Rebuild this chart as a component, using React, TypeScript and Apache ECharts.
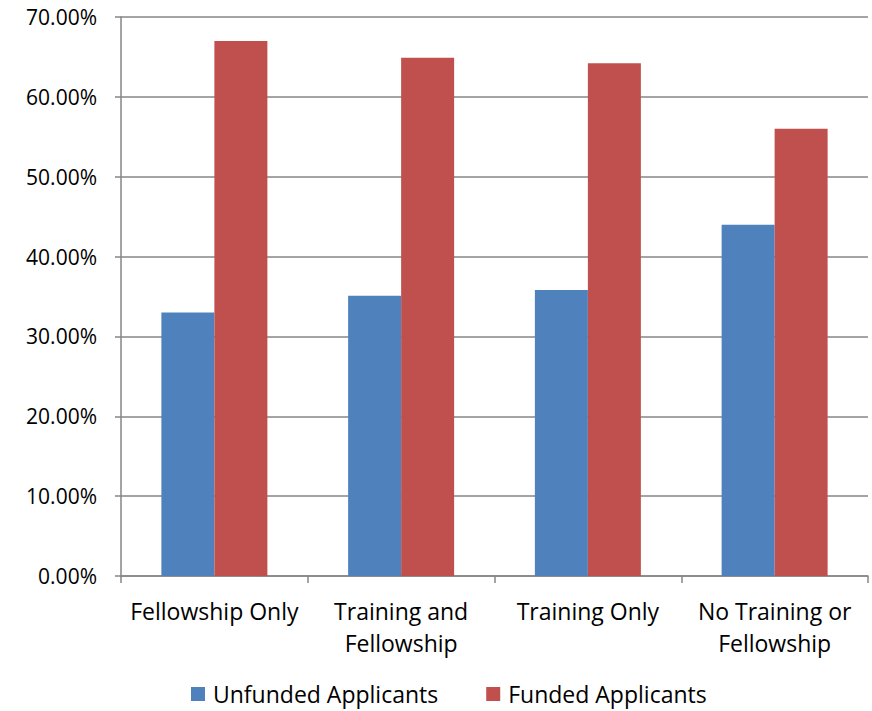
import React, { useEffect, useRef } from "react";
import * as echarts from "echarts";

const categories = ["Fellowship Only", "Training and\nFellowship", "Training Only", "No Training or\nFellowship"];
const unfunded = [33.0, 35.1, 35.8, 44.0];
const funded = [67.0, 64.9, 64.2, 56.0];
const seriesNames = ["Unfunded Applicants", "Funded Applicants"];

export default function App() {
  const ref = useRef<HTMLDivElement>(null);
  useEffect(() => {
    if (!ref.current) return;
    const chart = echarts.init(ref.current, null, { renderer: "svg" });
    const font = "'Open Sans', 'Liberation Sans', sans-serif";
    chart.setOption({
      animation: false,
      textStyle: { fontFamily: font },
      grid: { left: 121, right: 4, top: 17, bottom: 135, containLabel: false },
      legend: {
        top: 682,
        left: 191,
        padding: 0,
        itemWidth: 14,
        itemHeight: 14,
        itemGap: 48,
        icon: "rect",
        textStyle: { fontSize: 23, lineHeight: 24, color: "#000", fontFamily: font, padding: [0, 0, 0, 3] },
        data: seriesNames,
      },
      xAxis: {
        type: "category",
        data: categories,
        axisLine: { show: true, lineStyle: { color: "#868686", width: 1.5 } },
        axisTick: { show: true, length: 7, alignWithLabel: false, lineStyle: { color: "#868686", width: 1.5 } },
        axisLabel: { fontSize: 23, color: "#000", margin: 19, lineHeight: 32, fontFamily: font, interval: 0 },
      },
      yAxis: {
        type: "value",
        min: 0,
        max: 70,
        interval: 10,
        axisLine: { show: true, lineStyle: { color: "#868686", width: 1.5 } },
        axisTick: { show: true, length: 6, lineStyle: { color: "#868686", width: 1.5 } },
        axisLabel: {
          fontSize: 21,
          color: "#000",
          margin: 24,
          fontFamily: font,
          formatter: (v: number) => v.toFixed(2) + "%",
        },
        splitLine: { show: true, lineStyle: { color: "#868686", width: 1.5 } },
      },
      series: [
        {
          name: seriesNames[0],
          type: "bar",
          data: unfunded,
          barWidth: 53,
          barGap: "0%",
          itemStyle: { color: "#4F81BD" },
        },
        {
          name: seriesNames[1],
          type: "bar",
          data: funded,
          barWidth: 53,
          barGap: "0%",
          itemStyle: { color: "#C0504D" },
        },
      ],
    });
    return () => chart.dispose();
  }, []);
  return <div ref={ref} style={{ width: 872, height: 711, position: "absolute", left: 0, top: 0 }} />;
}
